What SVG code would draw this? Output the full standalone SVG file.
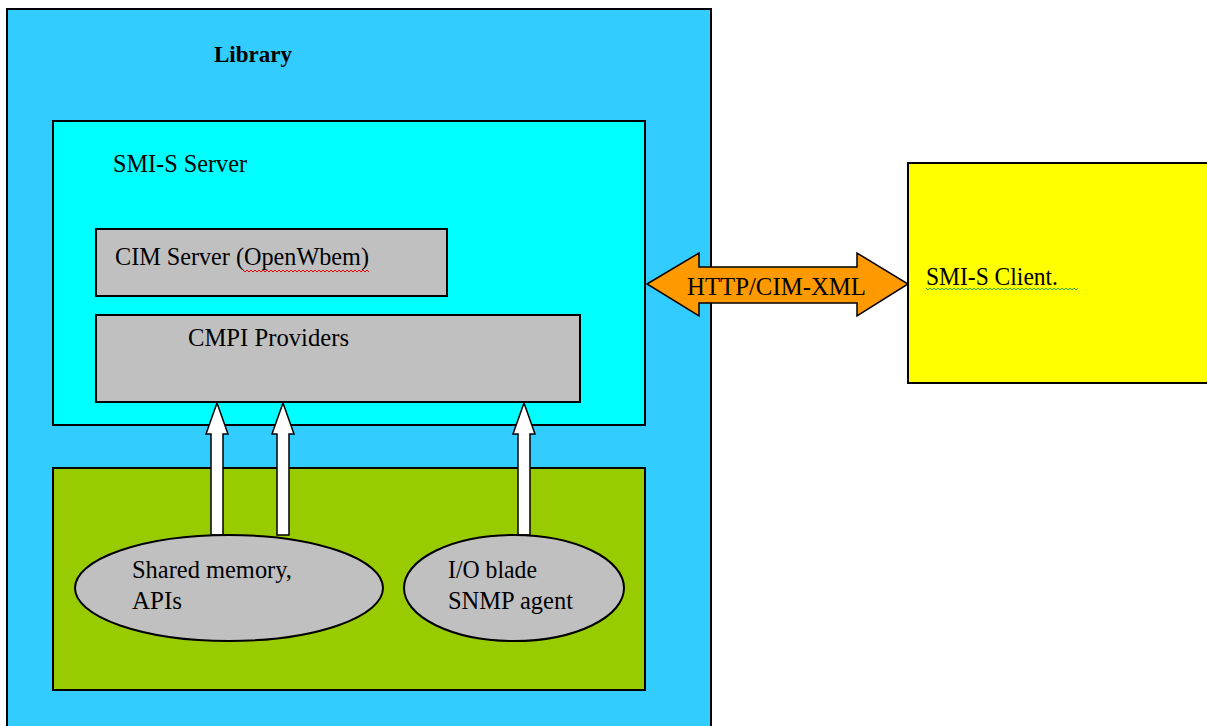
<svg xmlns="http://www.w3.org/2000/svg" width="1207" height="726" viewBox="0 0 1207 726">
<style>
.box{stroke:#000;stroke-width:2}
.t{font-family:"Liberation Serif","Times New Roman",serif;font-size:25px;fill:#000}
.b{font-weight:bold;font-size:24px}
.blk{fill:#fff;stroke:#000;stroke-width:1.5;stroke-linejoin:miter}
.sq{fill:none;stroke-width:1}
</style>
<rect width="1207" height="726" fill="#fff"/>
<g id="library">
<rect class="box" x="7" y="9" width="704" height="730" fill="#33CCFF"/>
<text class="t b" x="214" y="62" textLength="78" lengthAdjust="spacingAndGlyphs">Library</text>
</g>
<g id="smis-server">
<rect class="box" x="53" y="121" width="592" height="304" fill="#00FFFF"/>
<text class="t" x="113" y="172" textLength="134" lengthAdjust="spacingAndGlyphs">SMI-S Server</text>
</g>
<g id="cim-server">
<rect class="box" x="96" y="229" width="351" height="67" fill="#C0C0C0"/>
<text class="t" x="115" y="265" textLength="254" lengthAdjust="spacingAndGlyphs">CIM Server (OpenWbem)</text>
<path class="sq" stroke="#E00000" d="M243 270 l2 2 l2 -2 l2 2 l2 -2 l2 2 l2 -2 l2 2 l2 -2 l2 2 l2 -2 l2 2 l2 -2 l2 2 l2 -2 l2 2 l2 -2 l2 2 l2 -2 l2 2 l2 -2 l2 2 l2 -2 l2 2 l2 -2 l2 2 l2 -2 l2 2 l2 -2 l2 2 l2 -2 l2 2 l2 -2 l2 2 l2 -2 l2 2 l2 -2 l2 2 l2 -2 l2 2 l2 -2 l2 2 l2 -2 l2 2 l2 -2 l2 2 l2 -2 l2 2 l2 -2 l2 2 l2 -2 l2 2 l2 -2 l2 2 l2 -2 l2 2 l2 -2 l2 2 l2 -2 l2 2 l2 -2 l2 2 l2 -2 l2 2"/>
</g>
<g id="cmpi-providers">
<rect class="box" x="96" y="315" width="484" height="87" fill="#C0C0C0"/>
<text class="t" x="188" y="346" textLength="161" lengthAdjust="spacingAndGlyphs">CMPI Providers</text>
</g>
<g id="hardware">
<rect class="box" x="53" y="468" width="592" height="222" fill="#99CC00"/>
</g>
<g id="connectors">
<path class="blk" d="M217 403 L228 434 L223 434 L223 535 L211 535 L211 434 L206 434 Z"/>
<path class="blk" d="M283 403 L294 434 L289 434 L289 535 L277 535 L277 434 L272 434 Z"/>
<path class="blk" d="M524 403 L535 434 L530 434 L530 535 L518 535 L518 434 L513 434 Z"/>
<path d="M647 284 L699 253 L699 267 L857 267 L857 253 L908 284 L857 316 L857 303 L699 303 L699 316 Z" fill="#FF9900" stroke="#000" stroke-width="1.5"/>
<text class="t" x="687" y="295" textLength="179" lengthAdjust="spacingAndGlyphs">HTTP/CIM-XML</text>
</g>
<g id="shared-memory">
<ellipse class="box" cx="229" cy="588" rx="154" ry="53" fill="#C0C0C0" stroke-width="1.5"/>
<text class="t" x="132" y="578" textLength="160" lengthAdjust="spacingAndGlyphs">Shared memory,</text>
<text class="t" x="132" y="609" textLength="50" lengthAdjust="spacingAndGlyphs">APIs</text>
</g>
<g id="io-blade">
<ellipse class="box" cx="514" cy="588" rx="110" ry="53" fill="#C0C0C0" stroke-width="1.5"/>
<text class="t" x="448" y="578" textLength="89" lengthAdjust="spacingAndGlyphs">I/O blade</text>
<text class="t" x="448" y="609" textLength="125" lengthAdjust="spacingAndGlyphs">SNMP agent</text>
</g>
<g id="smis-client">
<rect class="box" x="908" y="163" width="310" height="220" fill="#FFFF00"/>
<text class="t" x="926" y="285" textLength="132" lengthAdjust="spacingAndGlyphs">SMI-S Client.</text>
<path class="sq" stroke="#30B030" d="M926 288 l2 2 l2 -2 l2 2 l2 -2 l2 2 l2 -2 l2 2 l2 -2 l2 2 l2 -2 l2 2 l2 -2 l2 2 l2 -2 l2 2 l2 -2 l2 2 l2 -2 l2 2 l2 -2 l2 2 l2 -2 l2 2 l2 -2 l2 2 l2 -2 l2 2 l2 -2 l2 2 l2 -2 l2 2 l2 -2 l2 2 l2 -2 l2 2 l2 -2 l2 2 l2 -2 l2 2 l2 -2 l2 2 l2 -2 l2 2 l2 -2 l2 2 l2 -2 l2 2 l2 -2 l2 2 l2 -2 l2 2 l2 -2 l2 2 l2 -2 l2 2 l2 -2 l2 2 l2 -2 l2 2 l2 -2 l2 2 l2 -2 l2 2 l2 -2 l2 2 l2 -2 l2 2 l2 -2 l2 2 l2 -2 l2 2 l2 -2 l2 2 l2 -2 l2 2 l2 -2"/>
</g>
</svg>
